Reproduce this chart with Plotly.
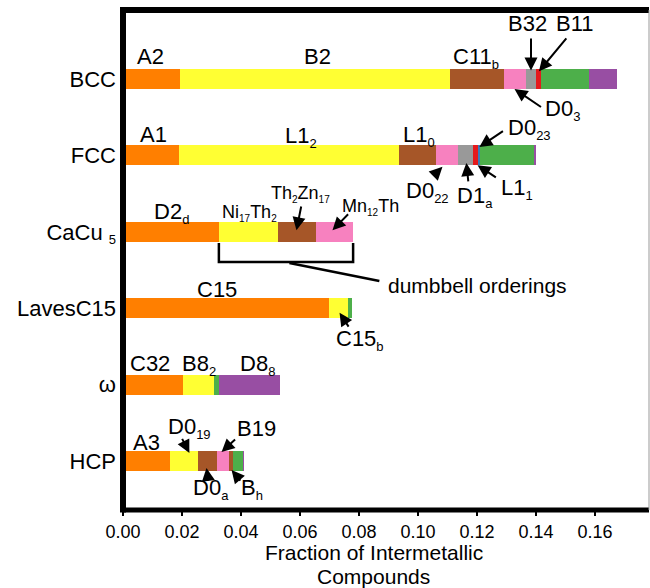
import plotly.graph_objects as go

# ---------------- data ----------------
categories = ["HCP", "ω", "LavesC15", "CaCu5", "FCC", "BCC"]

ORANGE, YELLOW, BROWN, PINK = "#FF7F00", "#FFFF33", "#A65628", "#F781BF"
GRAY, RED, BLUE, GREEN, PURPLE = "#999999", "#E41A1C", "#377EB8", "#4DAF4A", "#984EA3"

# stacked segment widths (fraction of intermetallic compounds), left to right
hcp_values = [0.0159, 0.0095, 0.0064, 0.0040, 0.0015, 0.0034, 0.0003]
hcp_colors = [ORANGE, YELLOW, BROWN, PINK, BROWN, GREEN, PURPLE]

omega_values = [0.0203, 0.0107, 0.0014, 0.0208]
omega_colors = [ORANGE, YELLOW, GREEN, PURPLE]

laves_values = [0.0698, 0.0066, 0.0011]
laves_colors = [ORANGE, YELLOW, GREEN]

cacu5_values = [0.0325, 0.0200, 0.0129, 0.0126]
cacu5_colors = [ORANGE, YELLOW, BROWN, PINK]

fcc_values = [0.0190, 0.0746, 0.0126, 0.0074, 0.0049, 0.0018, 0.0007, 0.0184, 0.0004]
fcc_colors = [ORANGE, YELLOW, BROWN, PINK, GRAY, RED, BLUE, GREEN, PURPLE]

bcc_values = [0.0193, 0.0915, 0.0184, 0.0074, 0.0034, 0.0016, 0.0164, 0.0093]
bcc_colors = [ORANGE, YELLOW, BROWN, PINK, GRAY, RED, GREEN, PURPLE]

x_ticks = [0.00, 0.02, 0.04, 0.06, 0.08, 0.10, 0.12, 0.14, 0.16]


def sub(t, size=13):
    return f'<sub><span style="font-size:{size}px">{t}</span></sub>'


category_labels = ["HCP", "ω", "LavesC15", "CaCu " + sub("5", 13), "FCC", "BCC"]

# ---------------- figure ----------------
rows = [
    (hcp_values, hcp_colors),
    (omega_values, omega_colors),
    (laves_values, laves_colors),
    (cacu5_values, cacu5_colors),
    (fcc_values, fcc_colors),
    (bcc_values, bcc_colors),
]
n_seg = max(len(v) for v, _ in rows)

fig = go.Figure()
for k in range(n_seg):
    xs, cs = [], []
    for vals, cols in rows:
        if k < len(vals):
            xs.append(vals[k])
            cs.append(cols[k])
        else:
            xs.append(0)
            cs.append("rgba(0,0,0,0)")
    fig.add_trace(go.Bar(
        y=categories, x=xs, orientation="h",
        marker=dict(color=cs, line=dict(width=0)),
        width=0.26, showlegend=False, hoverinfo="skip",
    ))

FONT = "Liberation Sans, Arial, Helvetica, sans-serif"
ann = []


def label(x, y, text, size=22, xanchor="center"):
    ann.append(dict(x=x, y=y, xref="x", yref="y", text=text, showarrow=False,
                    font=dict(size=size, color="black", family=FONT),
                    xanchor=xanchor, yanchor="middle"))


def arrow(tx, ty, hx, hy):
    ann.append(dict(x=hx, y=hy, ax=tx, ay=ty, xref="x", yref="y", axref="x", ayref="y",
                    text="", showarrow=True, arrowhead=2, arrowsize=1.3,
                    arrowwidth=2, arrowcolor="black"))


# BCC
label(0.0093, 5.30, "A2")
label(0.0659, 5.30, "B2")
label(0.1198, 5.27, "C11" + sub("b"))
label(0.1371, 5.72, "B32")
label(0.1531, 5.72, "B11")
label(0.1490, 4.59, "D0" + sub("3"))
arrow(0.1383, 5.55, 0.1383, 5.11)
arrow(0.1507, 5.55, 0.1410, 5.10)
arrow(0.1422, 4.62, 0.1327, 4.87)

# FCC
label(0.0103, 4.27, "A1")
label(0.0605, 4.24, "L1" + sub("2"))
label(0.1002, 4.25, "L1" + sub("0"))
label(0.1378, 4.34, "D0" + sub("23"))
label(0.1032, 3.52, "D0" + sub("22"))
label(0.1192, 3.45, "D1" + sub("a"))
label(0.1337, 3.56, "L1" + sub("1"))
arrow(0.1293, 4.33, 0.1208, 4.11)
arrow(0.1049, 3.72, 0.1083, 3.85)
arrow(0.1171, 3.64, 0.1164, 3.90)
arrow(0.1269, 3.70, 0.1202, 3.87)

# CaCu5
label(0.0164, 3.25, "D2" + sub("d"))
label(0.0429, 3.24, "Ni" + sub("17", 10) + "Th" + sub("2", 10), size=18)
label(0.0602, 3.50, "Th" + sub("2", 10) + "Zn" + sub("17", 10), size=18)
label(0.0839, 3.33, "Mn" + sub("12", 10) + "Th", size=18)
arrow(0.0605, 3.35, 0.0588, 3.02)
arrow(0.0768, 3.25, 0.0710, 3.02)
label(0.0890, 2.30, "dumbbell orderings", size=21, xanchor="left")

# LavesC15
label(0.0317, 2.24, "C15")
label(0.0805, 1.58, "C15" + sub("b"))
arrow(0.0768, 1.74, 0.0734, 1.94)

# omega
label(0.0090, 1.28, "C32")
label(0.0259, 1.26, "B8" + sub("2"))
label(0.0456, 1.26, "D8" + sub("8"))

# HCP
label(0.0080, 0.24, "A3")
label(0.0225, 0.43, "D0" + sub("19"))
label(0.0453, 0.42, "B19")
label(0.0297, -0.37, "D0" + sub("a"))
label(0.0436, -0.37, "B" + sub("h"))
arrow(0.0198, 0.31, 0.0225, 0.105)
arrow(0.0385, 0.30, 0.0334, 0.118)
arrow(0.0290, -0.275, 0.0283, -0.092)
arrow(0.0402, -0.275, 0.0368, -0.118)

# axis title (two lines)
for txt, yp in (("Fraction of Intermetallic", -0.085), ("Compounds", -0.133)):
    ann.append(dict(x=0.477, y=yp, xref="paper", yref="paper",
                    text=txt, showarrow=False,
                    font=dict(size=21, color="black", family=FONT),
                    xanchor="center", yanchor="middle"))

shapes = [
    # bracket for dumbbell orderings
    dict(type="path", xref="x", yref="y",
         path=f"M {cacu5_values[0]},2.853 L {cacu5_values[0]},2.605 "
              f"L {sum(cacu5_values)},2.605 L {sum(cacu5_values)},2.853",
         line=dict(color="black", width=2.5)),
    dict(type="line", xref="x", yref="y", x0=0.0564, y0=2.592, x1=0.0869, y1=2.356,
         line=dict(color="black", width=2.5)),
    # frame
    dict(type="line", xref="paper", yref="paper", x0=0, x1=1, y0=1, y1=1,
         line=dict(color="black", width=6)),
    dict(type="line", xref="paper", yref="paper", x0=0, x1=1, y0=0, y1=0,
         line=dict(color="black", width=5)),
    dict(type="line", xref="paper", yref="paper", x0=0, x1=0, y0=-0.005, y1=1.006,
         line=dict(color="black", width=6)),
    dict(type="line", xref="paper", yref="paper", x0=1, x1=1, y0=0, y1=1,
         line=dict(color="#999999", width=1)),
]

fig.update_layout(
    width=650, height=588,
    margin=dict(l=123, r=1, t=10, b=78, autoexpand=False),
    paper_bgcolor="white", plot_bgcolor="white",
    barmode="stack", bargap=0,
    font=dict(family=FONT, color="black"),
    annotations=ann, shapes=shapes,
    xaxis=dict(range=[0, 0.1783], tickvals=x_ticks, tickformat=".2f",
               ticks="outside", ticklen=5, tickwidth=1.5, tickcolor="black",
               showgrid=False, zeroline=False, showline=False, automargin=False,
               tickfont=dict(size=18, family=FONT, color="black")),
    yaxis=dict(type="category", categoryorder="array", categoryarray=categories,
               tickvals=categories, ticktext=category_labels,
               range=[-0.641, 5.903], showgrid=False, zeroline=False, showline=False,
               ticks="", ticklabelstandoff=6, automargin=False,
               tickfont=dict(size=22, family=FONT, color="black")),
)

fig.write_html(
    "out.html",
    config={"displayModeBar": False},
    post_script="document.body.style.margin='0';document.body.style.overflow='hidden';",
)
